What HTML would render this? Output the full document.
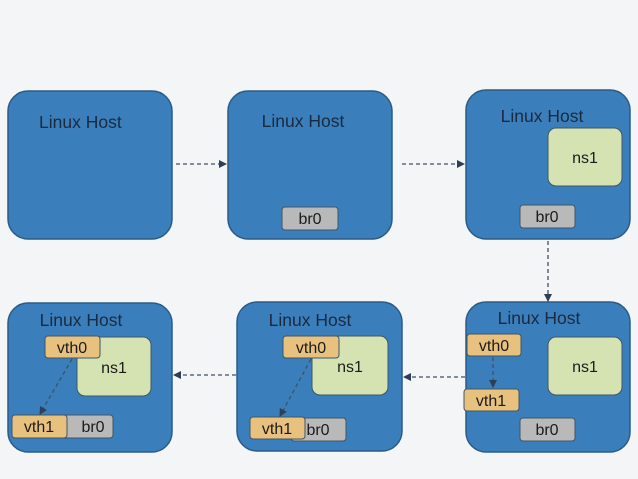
<!DOCTYPE html>
<html><head><style>
html,body{margin:0;padding:0;background:#f3f5f7;}
svg{display:block;font-family:"Liberation Sans",sans-serif;}
</style></head><body>
<svg width="638" height="479" viewBox="0 0 638 479" xmlns="http://www.w3.org/2000/svg">
<defs>
<marker id="a" markerWidth="8" markerHeight="8" refX="7" refY="4" orient="auto" markerUnits="userSpaceOnUse"><path d="M0,0 L8,4 L0,8 z" fill="#2e3f55"/></marker>
</defs>
<rect width="638" height="479" fill="#f3f5f7"/>
<g fill="#3a7fbc" stroke="#2a5b86" stroke-width="1.5">
<rect x="8" y="91" width="164" height="148" rx="20"/>
<rect x="228" y="91" width="164" height="148" rx="20"/>
<rect x="466" y="90" width="164" height="149" rx="20"/>
<rect x="8" y="303" width="164" height="149" rx="20"/>
<rect x="237" y="302" width="165" height="149" rx="20"/>
<rect x="466" y="302" width="164" height="150" rx="20"/>
</g>
<g font-size="17.5" fill="#1b2a3f">
<text x="39" y="128">Linux Host</text>
<text x="303" y="127" text-anchor="middle">Linux Host</text>
<text x="542" y="122" text-anchor="middle">Linux Host</text>
<text x="81" y="326" text-anchor="middle">Linux Host</text>
<text x="310" y="326" text-anchor="middle">Linux Host</text>
<text x="539" y="324" text-anchor="middle">Linux Host</text>
</g>
<g stroke="#3e5566" stroke-width="1">
<rect x="548" y="128" width="74" height="58" rx="8" fill="#d5e3b3"/>
<rect x="548" y="337" width="74" height="58" rx="8" fill="#d5e3b3"/>
<rect x="77" y="337" width="74" height="59" rx="8" fill="#d5e3b3"/>
<rect x="312" y="336" width="76" height="59" rx="8" fill="#d5e3b3"/>
<rect x="282" y="207" width="56" height="23" rx="3" fill="#b9b9b9"/>
<rect x="520" y="205" width="55" height="23" rx="3" fill="#b9b9b9"/>
<rect x="520" y="418" width="55" height="23" rx="3" fill="#b9b9b9"/>
<rect x="60" y="415" width="53" height="23" rx="3" fill="#b9b9b9"/>
<rect x="291" y="418" width="55" height="23" rx="3" fill="#b9b9b9"/>
<rect x="45" y="336" width="55" height="22" rx="3" fill="#e8c17e"/>
<rect x="12" y="415" width="55" height="23" rx="3" fill="#e8c17e"/>
<rect x="283" y="336" width="56" height="22" rx="3" fill="#e8c17e"/>
<rect x="250" y="417" width="55" height="22" rx="3" fill="#e8c17e"/>
<rect x="467" y="334" width="54" height="22" rx="3" fill="#e8c17e"/>
<rect x="464" y="389" width="55" height="22" rx="3" fill="#e8c17e"/>
</g>
<g font-size="16" fill="#1b1b1b" text-anchor="middle">
<text x="585" y="163">ns1</text>
<text x="585" y="372">ns1</text>
<text x="114" y="373">ns1</text>
<text x="350" y="372">ns1</text>
<text x="310" y="224">br0</text>
<text x="547" y="222">br0</text>
<text x="547" y="435">br0</text>
<text x="93" y="432">br0</text>
<text x="318" y="435">br0</text>
<text x="72" y="353">vth0</text>
<text x="39" y="432">vth1</text>
<text x="311" y="353">vth0</text>
<text x="277" y="434">vth1</text>
<text x="494" y="351">vth0</text>
<text x="491" y="406">vth1</text>
</g>
<g stroke="#3e5263" stroke-width="1.3" stroke-dasharray="4,3" fill="none" marker-end="url(#a)">
<line x1="176" y1="164" x2="226" y2="164"/>
<line x1="402" y1="164" x2="464" y2="164"/>
<line x1="548" y1="241" x2="548" y2="301"/>
<line x1="465" y1="377" x2="404" y2="377"/>
<line x1="236" y1="375" x2="174" y2="375"/>
<line x1="493" y1="357" x2="493" y2="387"/>
<line x1="72" y1="359" x2="40" y2="414"/>
<line x1="311" y1="359" x2="280" y2="416"/>
</g>
</svg>
</body></html>
